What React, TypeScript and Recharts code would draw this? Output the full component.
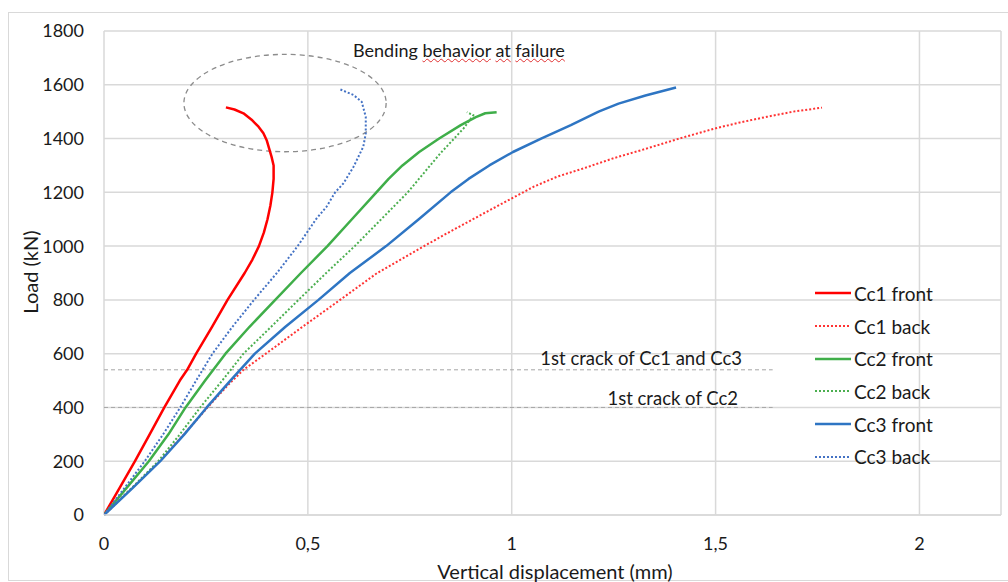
import React from 'react';
import { LineChart, Line, XAxis, YAxis, CartesianGrid, ReferenceLine, ReferenceArea, Legend } from 'recharts';

// ---- data (x: vertical displacement in mm, y: load in kN) ----
const cc1Front: [number, number][] = [
  [0, 0], [0.038, 100], [0.076, 200], [0.112, 300], [0.148, 400], [0.186, 500], [0.204, 540],
  [0.226, 600], [0.265, 700], [0.303, 800], [0.345, 900], [0.364, 950], [0.38, 1000],
  [0.392, 1050], [0.401, 1100], [0.408, 1150], [0.413, 1200], [0.416, 1250], [0.416, 1300],
  [0.411, 1332], [0.399, 1394], [0.391, 1420], [0.379, 1444], [0.362, 1470], [0.342, 1494],
  [0.32, 1508], [0.299, 1516],
];
const cc1Back: [number, number][] = [
  [0, 0], [0.068, 100], [0.136, 200], [0.196, 300], [0.254, 400], [0.302, 480], [0.342, 540],
  [0.397, 600], [0.487, 700], [0.579, 800], [0.67, 900], [0.785, 1000], [0.849, 1054],
  [0.905, 1100], [0.955, 1141], [1.054, 1221], [1.111, 1258], [1.176, 1289], [1.25, 1327],
  [1.318, 1357], [1.413, 1401], [1.5, 1438], [1.56, 1460], [1.626, 1481], [1.69, 1500],
  [1.761, 1515],
];
const cc2Front: [number, number][] = [
  [0, 0], [0.055, 100], [0.11, 200], [0.158, 300], [0.2, 400], [0.248, 500], [0.298, 600],
  [0.357, 700], [0.42, 800], [0.483, 900], [0.548, 1000], [0.608, 1100], [0.668, 1200],
  [0.698, 1250], [0.732, 1300], [0.773, 1350], [0.822, 1400], [0.875, 1450], [0.912, 1480],
  [0.935, 1494], [0.963, 1498],
];
const cc2Back: [number, number][] = [
  [0, 0], [0.068, 100], [0.133, 200], [0.186, 300], [0.236, 400], [0.29, 500], [0.342, 600],
  [0.41, 700], [0.477, 800], [0.545, 900], [0.615, 1000], [0.68, 1100], [0.745, 1200],
  [0.8, 1300], [0.825, 1345], [0.882, 1438], [0.906, 1487], [0.89, 1498],
];
const cc3Front: [number, number][] = [
  [0, 0], [0.07, 100], [0.138, 200], [0.197, 300], [0.252, 400], [0.31, 500], [0.37, 600],
  [0.445, 700], [0.526, 800], [0.603, 900], [0.692, 1000], [0.772, 1100], [0.85, 1200],
  [0.894, 1250], [0.945, 1300], [1.003, 1350], [1.072, 1400], [1.145, 1450], [1.213, 1500],
  [1.262, 1530], [1.328, 1560], [1.403, 1590],
];
const cc3Back: [number, number][] = [
  [0, 0], [0.05, 100], [0.1, 200], [0.145, 300], [0.187, 400], [0.226, 500], [0.266, 600],
  [0.315, 700], [0.368, 800], [0.424, 900], [0.475, 1000], [0.52, 1100], [0.546, 1147],
  [0.567, 1200], [0.587, 1233], [0.612, 1295], [0.636, 1370], [0.642, 1419], [0.642, 1481],
  [0.632, 1537], [0.612, 1562], [0.579, 1583],
];

const xTicks = [0, 0.5, 1, 1.5, 2];
const yTicks = [0, 200, 400, 600, 800, 1000, 1200, 1400, 1600, 1800];
const crackLoads = { cc1cc3: 540, cc2: 400 };
const crackLineEnd = 1.64;
const bendingZone = { x1: 0.196, x2: 0.692, y1: 1351, y2: 1713 };

type Series = { name: string; data: [number, number][]; color: string; dotted: boolean };
const series: Series[] = [
  { name: 'Cc1 front', data: cc1Front, color: '#ff0000', dotted: false },
  { name: 'Cc1 back', data: cc1Back, color: '#ff3333', dotted: true },
  { name: 'Cc2 front', data: cc2Front, color: '#3fae49', dotted: false },
  { name: 'Cc2 back', data: cc2Back, color: '#4caf50', dotted: true },
  { name: 'Cc3 front', data: cc3Front, color: '#2e75c3', dotted: false },
  { name: 'Cc3 back', data: cc3Back, color: '#4472c4', dotted: true },
];

const FONT = "Lato, 'Open Sans', sans-serif";
const TEXT = '#1a1a1a';
const GRID = '#d9d9d9';

const toPoints = (d: [number, number][]) => d.map(([x, y]) => ({ x, y }));

const EllipseShape = (p: any) => (
  <ellipse
    cx={p.x + p.width / 2}
    cy={p.y + p.height / 2}
    rx={Math.abs(p.width / 2)}
    ry={Math.abs(p.height / 2)}
    fill="none"
    stroke="#8c8c8c"
    strokeWidth={1.3}
    strokeDasharray="5 4"
  />
);

const LegendContent = () => (
  <div style={{ fontFamily: FONT, fontSize: 19, color: TEXT }}>
    {series.map((s) => (
      <div key={s.name} style={{ height: 32.7, display: 'flex', alignItems: 'center' }}>
        <svg width={38} height={10} style={{ marginRight: 1 }}>
          <line
            x1={0}
            x2={36}
            y1={5}
            y2={5}
            stroke={s.color}
            strokeWidth={s.dotted ? 2 : 2.5}
            strokeDasharray={s.dotted ? '2 2' : undefined}
          />
        </svg>
        <span style={{ whiteSpace: 'nowrap' }}>{s.name}</span>
      </div>
    ))}
  </div>
);

const wavy: React.CSSProperties = {
  textDecorationLine: 'underline',
  textDecorationStyle: 'wavy',
  textDecorationColor: '#e03030',
  textDecorationThickness: 1,
};

export default function App() {
  return (
    <div style={{ position: 'absolute', left: 0, top: 0, width: 1008, height: 582, background: '#fff', fontFamily: FONT, overflow: 'hidden' }}>
      <div style={{ position: 'absolute', left: 8, top: 12, width: 1100, height: 567, borderLeft: `1.5px solid ${GRID}`, borderTop: `1.5px solid ${GRID}`, borderBottom: `1.5px solid ${GRID}` }} />
      <LineChart width={1008} height={582} margin={{ top: 31, right: 7, bottom: 0, left: 0 }}>
        <CartesianGrid stroke={GRID} strokeWidth={1.5} />
        <XAxis
          type="number"
          dataKey="x"
          domain={[0, 2.2]}
          ticks={xTicks}
          allowDataOverflow
          height={67}
          tickSize={0}
          tickMargin={22}
          tickFormatter={(v: number) => String(v).replace('.', ',')}
          tick={{ fontSize: 18, fill: TEXT, fontFamily: FONT }}
          axisLine={{ stroke: GRID, strokeWidth: 1.5 }}
        />
        <YAxis
          type="number"
          domain={[0, 1800]}
          ticks={yTicks}
          width={104}
          tickSize={0}
          tickMargin={20}
          tick={{ fontSize: 18, fill: TEXT, fontFamily: FONT }}
          axisLine={false}
        />
        <ReferenceLine
          segment={[{ x: 0, y: crackLoads.cc1cc3 }, { x: crackLineEnd, y: crackLoads.cc1cc3 }]}
          stroke="#a6a6a6"
          strokeWidth={1}
          strokeDasharray="4 3"
        />
        <ReferenceLine
          segment={[{ x: 0, y: crackLoads.cc2 }, { x: crackLineEnd, y: crackLoads.cc2 }]}
          stroke="#a6a6a6"
          strokeWidth={1}
          strokeDasharray="4 3"
        />
        <ReferenceArea
          x1={bendingZone.x1}
          x2={bendingZone.x2}
          y1={bendingZone.y1}
          y2={bendingZone.y2}
          shape={EllipseShape}
        />
        {series.map((s) => (
          <Line
            key={s.name}
            name={s.name}
            data={toPoints(s.data)}
            dataKey="y"
            type="linear"
            stroke={s.color}
            strokeWidth={s.dotted ? 2 : 2.5}
            strokeDasharray={s.dotted ? '2 2' : undefined}
            strokeLinejoin="round"
            dot={false}
            activeDot={false}
            isAnimationActive={false}
          />
        ))}
        <Legend
          layout="vertical"
          align="center"
          verticalAlign="middle"
          content={LegendContent}
          wrapperStyle={{ left: 815, top: 277, width: 180, right: 'auto', bottom: 'auto' }}
        />
      </LineChart>
      <div style={{ position: 'absolute', left: 353, top: 39, fontSize: 18, color: TEXT, whiteSpace: 'nowrap', lineHeight: '22px' }}>
        Bending <span style={wavy}>behavior</span> <span style={wavy}>at</span> <span style={wavy}>failure</span>
      </div>
      <div style={{ position: 'absolute', right: 1008 - 742, top: 347, fontSize: 18.5, color: TEXT, whiteSpace: 'nowrap', lineHeight: '22px', textAlign: 'right' }}>
        1st crack of Cc1 and Cc3
      </div>
      <div style={{ position: 'absolute', right: 1008 - 738, top: 387, fontSize: 18.5, color: TEXT, whiteSpace: 'nowrap', lineHeight: '22px', textAlign: 'right' }}>
        1st crack of Cc2
      </div>
      <div style={{ position: 'absolute', left: 29.5, top: 272, transform: 'translate(-50%, -50%) rotate(-90deg)', fontSize: 20, lineHeight: '24px', color: TEXT, whiteSpace: 'nowrap' }}>
        Load (kN)
      </div>
      <div style={{ position: 'absolute', left: 555, top: 571, transform: 'translate(-50%, -50%)', fontSize: 20, lineHeight: '24px', color: TEXT, whiteSpace: 'nowrap' }}>
        Vertical displacement (mm)
      </div>
    </div>
  );
}
